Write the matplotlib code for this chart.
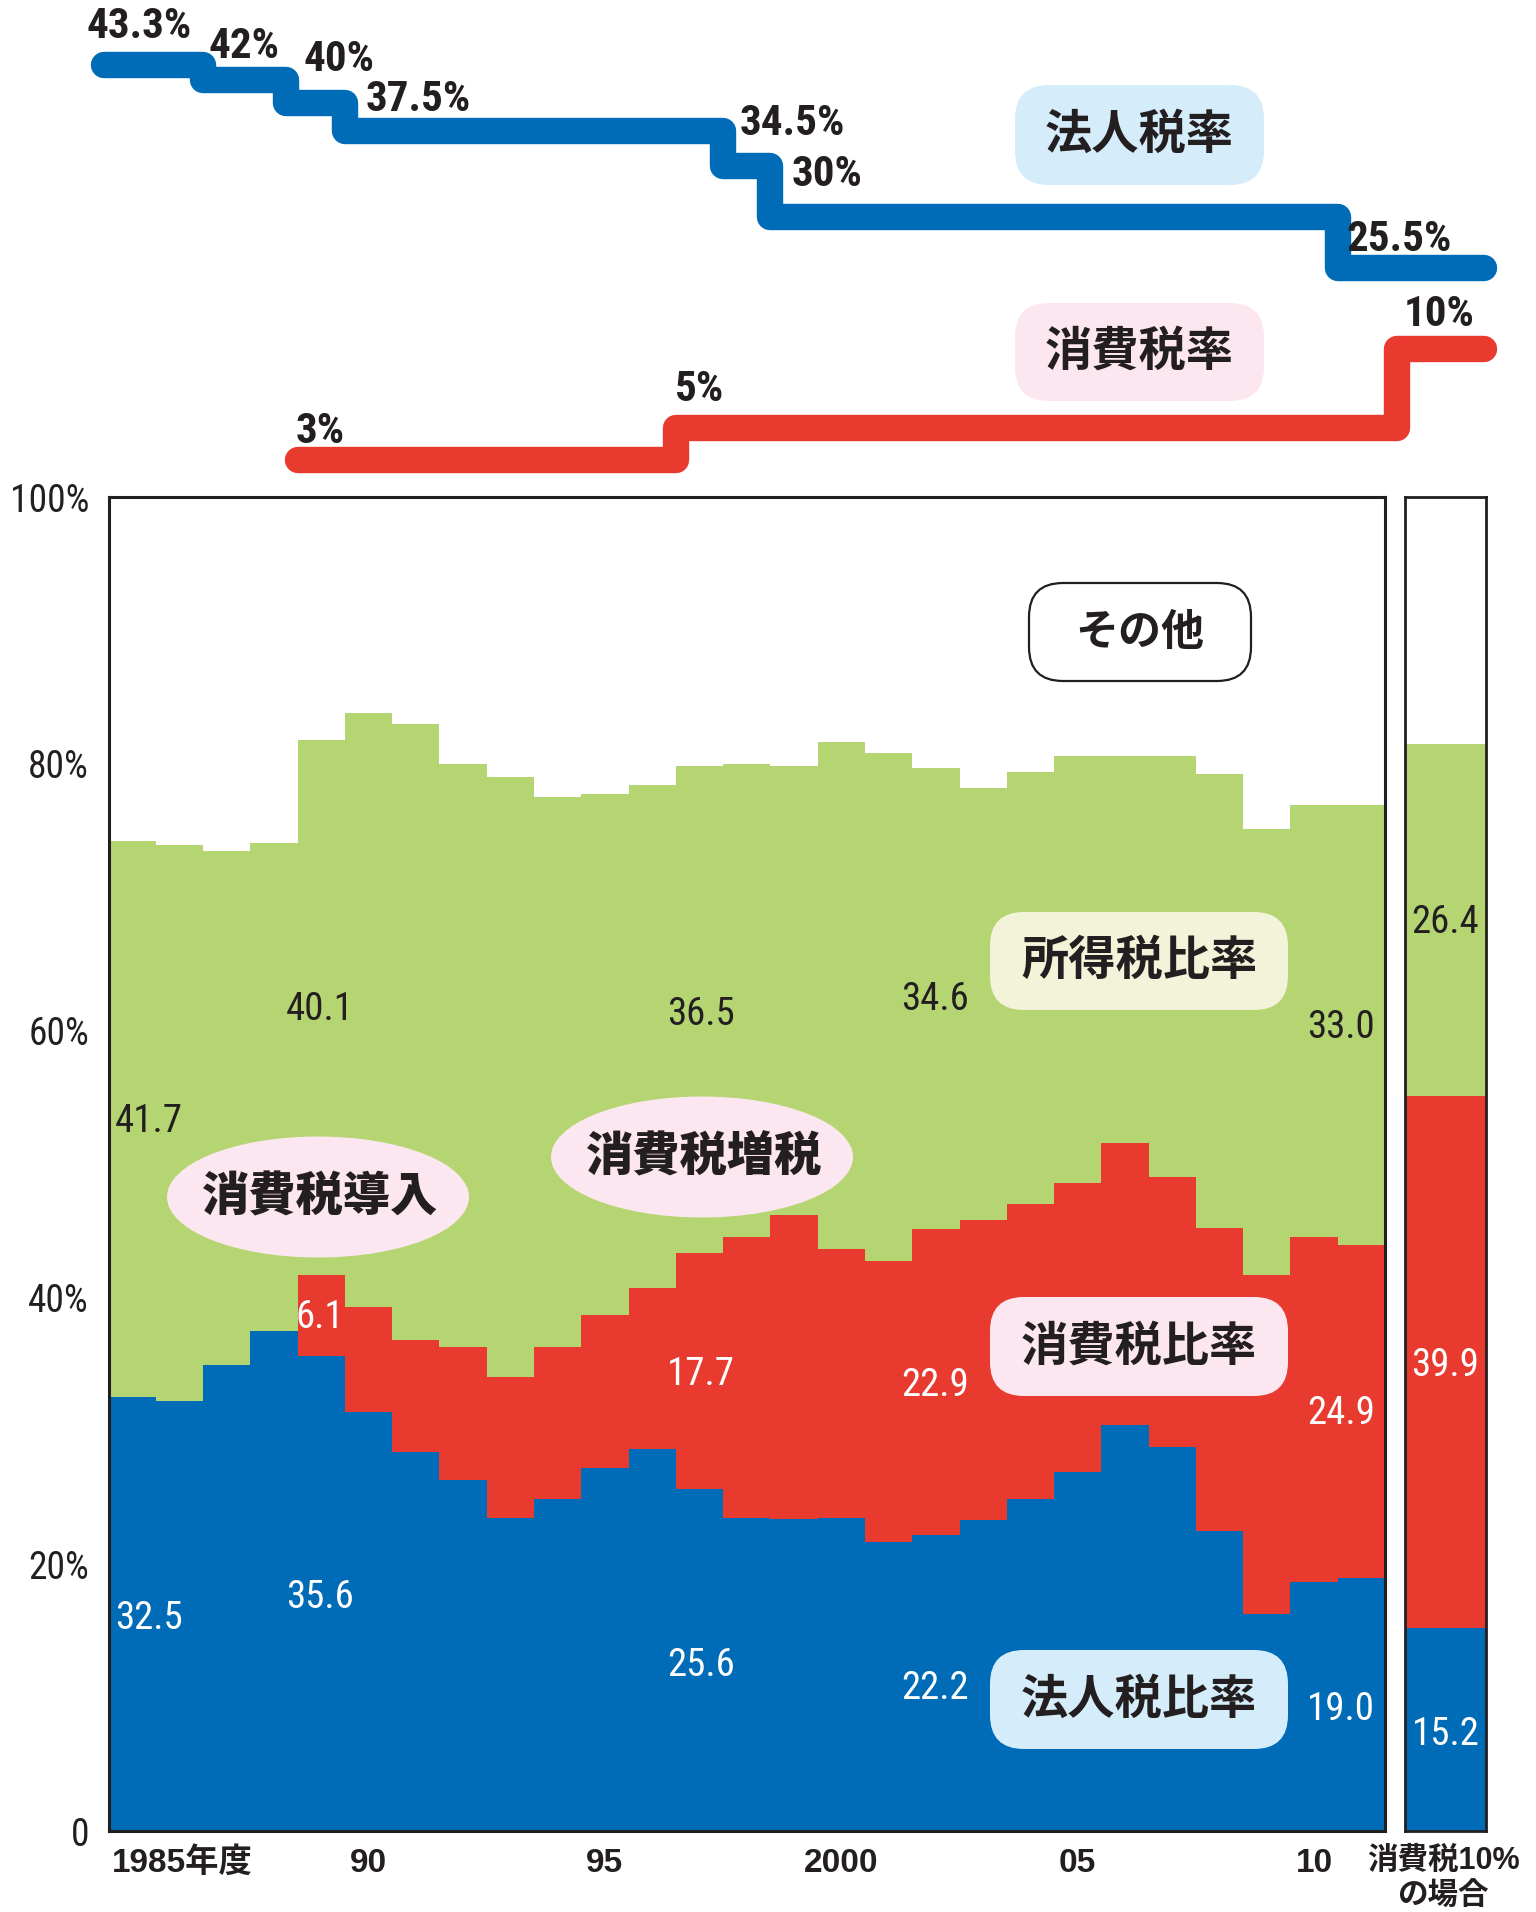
import matplotlib.pyplot as plt
import numpy as np
from matplotlib import font_manager
from matplotlib.patches import FancyBboxPatch, Ellipse

# tax revenue shares by fiscal year (%)
years = list(range(1985, 2012))
corp_share = [32.5, 32.2, 34.9, 37.5, 35.6, 31.4, 28.4, 26.3, 23.5, 24.9, 27.2, 28.6, 25.6, 23.5,
              23.4, 23.5, 21.7, 22.2, 23.3, 24.9, 26.9, 30.4, 28.8, 22.5, 16.3, 18.7, 19.0]
cons_share = [0, 0, 0, 0, 6.1, 7.9, 8.4, 10.0, 10.5, 11.4, 11.5, 12.1, 17.7, 21.0,
              22.8, 20.1, 21.0, 22.9, 22.5, 22.1, 21.7, 21.2, 20.2, 22.7, 25.4, 25.8, 24.9]
income_share = [41.7, 41.7, 38.6, 36.6, 40.1, 44.5, 46.2, 43.7, 45.0, 41.2, 39.0, 37.7, 36.5, 35.5,
                33.6, 38.0, 38.1, 34.6, 32.4, 32.4, 32.0, 29.0, 31.6, 34.0, 33.4, 32.4, 33.0]

# case of consumption tax at 10%: corporate, consumption, income
side_share = [15.2, 39.9, 26.4]

# statutory rates (step starts)
corp_rate_from = [1984.4, 1986.5, 1988.25, 1989.5, 1997.5, 1998.5, 2010.5]
corp_rate = [43.3, 42, 40, 37.5, 34.5, 30, 25.5]
cons_rate_from = [1988.5, 1996.5, 2011.75]
cons_rate = [3, 5, 10]
rate_end = 2013.6

label_years = [1985, 1989, 1997, 2002, 2011]

BLUE = '#006BB6'
RED = '#E93A2F'
GREEN = '#B5D572'
INK = '#231F20'

# pick a condensed face for the numbers if one is there
installed = {f.name for f in font_manager.fontManager.ttflist}
cond = next((n for n in ['Roboto Condensed', 'Liberation Sans Narrow', 'Archivo Narrow',
                         'PT Sans Narrow', 'Open Sans Condensed'] if n in installed), 'Liberation Sans')
NARROW = [cond, 'DejaVu Sans']
SANS = ['Liberation Sans', 'Noto Sans CJK JP']
JP = ['Noto Sans CJK JP', 'DejaVu Sans']

W, H = 1536, 1912
PX_YEAR = (1385 - 108.5) / 27


def box(l, t, r, b):
    return [l / W, 1 - b / H, (r - l) / W, (b - t) / H]


fig = plt.figure(figsize=(W / 100, H / 100), dpi=100)

# ---- main stacked chart
ax = fig.add_axes(box(108.5, 497, 1385, 1831))
edges = np.append(np.array(years) - 0.5, years[-1] + 0.5)
corp = np.array(corp_share)
cons = corp + np.array(cons_share)
inc = cons + np.array(income_share)
ax.stairs(corp, edges, baseline=0, fill=True, color=BLUE, linewidth=0)
ax.stairs(cons, edges, baseline=corp, fill=True, color=RED, linewidth=0)
ax.stairs(inc, edges, baseline=cons, fill=True, color=GREEN, linewidth=0)
ax.set_xlim(edges[0], edges[-1])
ax.set_ylim(0, 100)
for s in ax.spines.values():
    s.set_linewidth(2.2)
    s.set_color(INK)
ax.set_yticks([0, 20, 40, 60, 80, 100])
ax.set_yticklabels(['0', '20%', '40%', '60%', '80%', '100%'], family=NARROW, fontsize=27, color=INK)
ax.set_xticks([1990, 1995, 2000, 2005, 2010])
ax.set_xticklabels(['90', '95', '2000', '05', '10'], family=SANS, fontsize=24,
                   fontweight='bold', color=INK)
ax.tick_params(axis='y', length=0, pad=14)
ax.tick_params(axis='x', length=0, pad=12)

# value labels
lx = [1985.36, 1988.97, 1997.03, 2001.98, 2010.57]
ly_corp = [15.9, 17.5, 12.4, 10.7, 9.1]
ly_cons = [None, 38.5, 34.2, 33.4, 31.3]
ly_inc = [53.2, 61.6, 61.2, 62.3, 60.2]
for x, yr, yc, yk, yi in zip(lx, label_years, ly_corp, ly_cons, ly_inc):
    i = years.index(yr)
    ax.text(x, yc, f'{corp_share[i]:.1f}', color='white', family=NARROW, fontsize=28,
            ha='center', va='center')
    if yk is not None:
        ax.text(x, yk, f'{cons_share[i]:.1f}', color='white', family=NARROW, fontsize=28,
                ha='center', va='center')
    ax.text(x, yi, f'{income_share[i]:.1f}', color=INK, family=NARROW, fontsize=28,
            ha='center', va='center')

# ---- side bar (10% case)
ax2 = fig.add_axes(box(1405, 497, 1486, 1831))
bottoms = np.cumsum([0] + side_share[:-1])
for v, b0, c in zip(side_share, bottoms, [BLUE, RED, GREEN]):
    ax2.bar(0, v, bottom=b0, width=1, color=c, linewidth=0)
ax2.set_xlim(-0.5, 0.5)
ax2.set_ylim(0, 100)
ax2.set_xticks([])
ax2.set_yticks([])
for s in ax2.spines.values():
    s.set_linewidth(2.0)
    s.set_color(INK)
for v, yy, c in zip(side_share, [7.2, 34.9, 68.1], ['white', 'white', INK]):
    ax2.text(0, yy, f'{v:.1f}', color=c, family=NARROW, fontsize=28, ha='center', va='center')

# ---- statutory rate step lines
x0 = 1984.5 - 108.5 / PX_YEAR
x1 = 1984.5 + (W - 108.5) / PX_YEAR
ax_c = fig.add_axes(box(0, 0, W, 320))
ax_c.step(corp_rate_from + [rate_end], corp_rate + [corp_rate[-1]], where='post', color=BLUE,
          linewidth=19, solid_capstyle='round', solid_joinstyle='round')
ax_c.set_xlim(x0, x1)
ax_c.set_ylim(20.96, 49.02)
ax_c.axis('off')

ax_k = fig.add_axes(box(0, 300, W, 490))
ax_k.step(cons_rate_from + [rate_end], cons_rate + [cons_rate[-1]], where='post', color=RED,
          linewidth=19, solid_capstyle='round', solid_joinstyle='round')
ax_k.set_xlim(x0, x1)
ax_k.set_ylim(1.109, 13.07)
ax_k.axis('off')

# ---- overlay in pixel coordinates for annotations
ov = fig.add_axes([0, 0, 1, 1])
ov.set_xlim(0, W)
ov.set_ylim(H, 0)
ov.axis('off')
ov.patch.set_alpha(0)

corp_label_xy = [(139, 26), (244, 46), (339, 59), (418, 99), (792, 123), (827, 174), (1399, 239)]
cons_label_xy = [(320, 431), (700, 389), (1439, 314)]
for (x, y), v in zip(corp_label_xy + cons_label_xy, corp_rate + cons_rate):
    ov.text(x, y, f'{v:g}%', family=NARROW, fontweight='bold', fontsize=31, color=INK,
            ha='center', va='center')


def tag(l, t, r, b, text, face, edge='none', size=34, rad=34):
    ov.add_patch(FancyBboxPatch((l, t), r - l, b - t, boxstyle=f'round,pad=0,rounding_size={rad}',
                                facecolor=face, edgecolor=edge, linewidth=1.6))
    ov.text((l + r) / 2, (t + b) / 2, text, family=JP, fontweight='bold', fontsize=size,
            color=INK, ha='center', va='center')


tag(1015, 85, 1264, 185, '法人税率', '#D5EDFA')
tag(1015, 303, 1264, 401, '消費税率', '#FCE7F0')
tag(1029, 583, 1251, 681, 'その他', 'white', edge=INK, size=31)
tag(990, 912, 1288, 1010, '所得税比率', '#F2F3D9')
tag(990, 1297, 1288, 1396, '消費税比率', '#FCE7F0')
tag(990, 1650, 1288, 1749, '法人税比率', '#D5EDFA')

for cx, cy, txt in [(318, 1197, '消費税導入'), (702, 1157, '消費税増税')]:
    ov.add_patch(Ellipse((cx, cy), 302, 121, facecolor='#FCE7F0', edgecolor='none'))
    ov.text(cx + 2, cy, txt, family=JP, fontweight='black', fontsize=34, color=INK,
            ha='center', va='center')

ov.text(112, 1863, '1985年度', family=SANS, fontweight='bold', fontsize=24, color=INK,
        ha='left', va='center')
ov.text(1443, 1861, '消費税10%', family=SANS, fontweight='bold', fontsize=22, color=INK,
        ha='center', va='center')
ov.text(1443, 1896, 'の場合', family=JP, fontweight='bold', fontsize=22, color=INK,
        ha='center', va='center')

fig.savefig('out.png', dpi=100)
